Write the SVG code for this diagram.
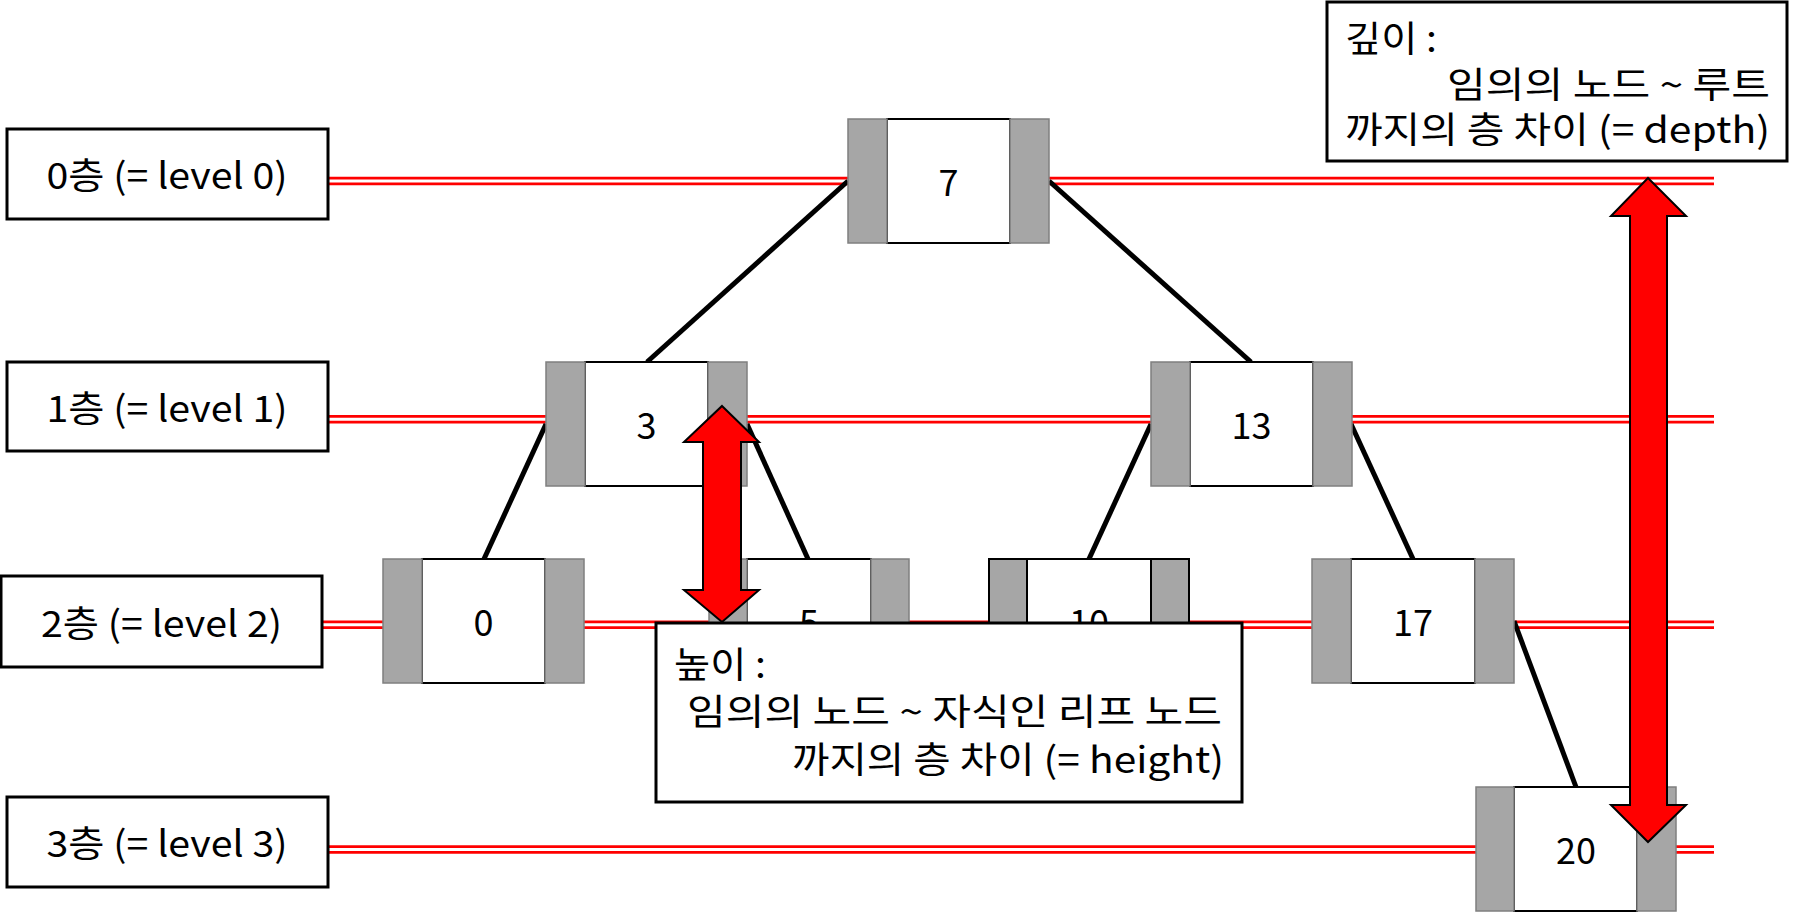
<svg xmlns="http://www.w3.org/2000/svg" width="1796" height="912" viewBox="0 0 1796 912">
<style>
text{font-family:"Noto Sans CJK KR","Noto Sans",sans-serif;font-size:36px;fill:#000}
.lvlR{stroke:#ff0000;stroke-width:8.5}
.lvlW{stroke:#ffffff;stroke-width:3}
.edge{stroke:#000;stroke-width:5;fill:none}
.g{fill:#a6a6a6;stroke:#7f7f7f;stroke-width:1.5}
.gk{fill:#a6a6a6;stroke:#000;stroke-width:2}
.w{fill:#fff;stroke:#000;stroke-width:2}
.box{fill:#fff;stroke:#000;stroke-width:3}
.arrow{fill:#ff0000;stroke:#000;stroke-width:2;stroke-linejoin:miter}
.c{text-anchor:middle}
</style>

<g id="level-lines">
  <line class="lvlR" x1="328" y1="181" x2="1714" y2="181"/>
  <line class="lvlW" x1="328" y1="181" x2="1714" y2="181"/>
  <line class="lvlR" x1="328" y1="419.3" x2="1714" y2="419.3"/>
  <line class="lvlW" x1="328" y1="419.3" x2="1714" y2="419.3"/>
  <line class="lvlR" x1="322" y1="624.8" x2="1714" y2="624.8"/>
  <line class="lvlW" x1="322" y1="624.8" x2="1714" y2="624.8"/>
  <line class="lvlR" x1="328" y1="849.5" x2="1714" y2="849.5"/>
  <line class="lvlW" x1="328" y1="849.5" x2="1714" y2="849.5"/>
</g>

<g id="level-labels">
  <g id="label-0"><rect class="box" x="7" y="129" width="321" height="90"/><text class="c" x="167" y="189" textLength="241" lengthAdjust="spacingAndGlyphs">0층 (= level 0)</text></g>
  <g id="label-1"><rect class="box" x="7" y="362" width="321" height="89"/><text class="c" x="167" y="421.5" textLength="241" lengthAdjust="spacingAndGlyphs">1층 (= level 1)</text></g>
  <g id="label-2"><rect class="box" x="1" y="576" width="321" height="91"/><text class="c" x="161.5" y="636.5" textLength="241" lengthAdjust="spacingAndGlyphs">2층 (= level 2)</text></g>
  <g id="label-3"><rect class="box" x="7" y="797" width="321" height="90"/><text class="c" x="167" y="857" textLength="241" lengthAdjust="spacingAndGlyphs">3층 (= level 3)</text></g>
</g>

<g id="connectors">
  <line class="edge" x1="848" y1="181" x2="647" y2="362"/>
  <line class="edge" x1="1049" y1="181" x2="1251" y2="362"/>
  <line class="edge" x1="546" y1="424" x2="484" y2="559"/>
  <line class="edge" x1="747" y1="424" x2="808" y2="559"/>
  <line class="edge" x1="1151" y1="424" x2="1089" y2="559"/>
  <line class="edge" x1="1351" y1="424" x2="1413" y2="559"/>
  <line class="edge" x1="1514" y1="621" x2="1576" y2="787"/>
</g>

<g id="node-7" transform="translate(848,119)">
  <rect class="w" x="39" y="0" width="123" height="124"/>
  <rect class="g" x="0" y="0" width="39" height="124"/>
  <rect class="g" x="162" y="0" width="39" height="124"/>
  <text class="c" x="100.5" y="77">7</text>
</g>
<g id="node-3" transform="translate(546,362)">
  <rect class="w" x="39" y="0" width="123" height="124"/>
  <rect class="g" x="0" y="0" width="39" height="124"/>
  <rect class="g" x="162" y="0" width="39" height="124"/>
  <text class="c" x="100.5" y="77">3</text>
</g>
<g id="node-13" transform="translate(1151,362)">
  <rect class="w" x="39" y="0" width="123" height="124"/>
  <rect class="g" x="0" y="0" width="39" height="124"/>
  <rect class="g" x="162" y="0" width="39" height="124"/>
  <text class="c" x="100.5" y="77">13</text>
</g>
<g id="node-0" transform="translate(383,559)">
  <rect class="w" x="39" y="0" width="123" height="124"/>
  <rect class="g" x="0" y="0" width="39" height="124"/>
  <rect class="g" x="162" y="0" width="39" height="124"/>
  <text class="c" x="100.5" y="77">0</text>
</g>
<g id="node-5" transform="translate(709,559)">
  <rect class="w" x="38" y="0" width="124" height="124"/>
  <rect class="g" x="0" y="0" width="38" height="124"/>
  <rect class="g" x="162" y="0" width="38" height="124"/>
  <text class="c" x="100" y="77">5</text>
</g>
<g id="node-10" transform="translate(989,559)">
  <rect class="w" x="38" y="0" width="124" height="124"/>
  <rect class="gk" x="0" y="0" width="38" height="124"/>
  <rect class="gk" x="162" y="0" width="38" height="124"/>
  <text class="c" x="100" y="77">10</text>
</g>
<g id="node-17" transform="translate(1312,559)">
  <rect class="w" x="39" y="0" width="124" height="124"/>
  <rect class="g" x="0" y="0" width="39" height="124"/>
  <rect class="g" x="163" y="0" width="39" height="124"/>
  <text class="c" x="101" y="77">17</text>
</g>
<g id="node-20" transform="translate(1476,787)">
  <rect class="w" x="38" y="0" width="123" height="124"/>
  <rect class="g" x="0" y="0" width="38" height="124"/>
  <rect class="g" x="161" y="0" width="39" height="124"/>
  <text class="c" x="100" y="77">20</text>
</g>

<g id="height-arrow">
  <polygon class="arrow" points="722,406 759,442 741,442 741,590 759,590 722,622 684,590 703,590 703,442 684,442"/>
</g>
<g id="depth-arrow">
  <polygon class="arrow" points="1648,178 1686,216 1667,216 1667,805 1686,805 1648,842 1611,805 1630,805 1630,216 1611,216"/>
</g>

<g id="height-note">
  <rect class="box" x="656" y="623" width="586" height="179"/>
  <text x="674" y="678" textLength="92" lengthAdjust="spacingAndGlyphs">높이 :</text>
  <text x="687" y="725" textLength="535" lengthAdjust="spacingAndGlyphs">임의의 노드 ~ 자식인 리프 노드</text>
  <text x="792" y="773" textLength="432" lengthAdjust="spacingAndGlyphs">까지의 층 차이 (= height)</text>
</g>

<g id="depth-note">
  <rect class="box" x="1327" y="2" width="460" height="159"/>
  <text x="1345" y="52" textLength="92" lengthAdjust="spacingAndGlyphs">깊이 :</text>
  <text x="1447" y="98" textLength="323" lengthAdjust="spacingAndGlyphs">임의의 노드 ~ 루트</text>
  <text x="1345" y="143" textLength="425" lengthAdjust="spacingAndGlyphs">까지의 층 차이 (= depth)</text>
</g>
</svg>
